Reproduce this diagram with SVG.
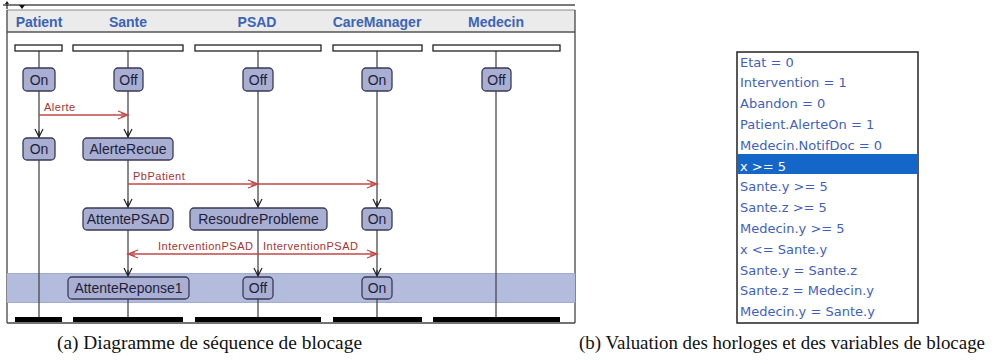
<svg xmlns="http://www.w3.org/2000/svg" width="1002" height="362" viewBox="0 0 1002 362">
<style>
.hdr{font-family:"Liberation Sans",Arial,sans-serif;font-weight:bold;font-size:14px;fill:#3b64b8;text-anchor:middle}
.st rect{fill:#a9aed3;stroke:#3a3a55;stroke-width:1.3}
.st text{font-family:"Liberation Sans",Arial,sans-serif;font-size:14px;fill:#1e1e38;text-anchor:middle}
.bar{fill:#ffffff;stroke:#222;stroke-width:1.3}
.bbar{fill:#000}
.life{stroke:#4a4a4a;stroke-width:1.3;fill:none}
.msg{stroke:#c04848;stroke-width:1.3;fill:none;marker-end:url(#ar)}
.lbl{font-family:"Liberation Sans",Arial,sans-serif;font-size:11px;letter-spacing:0.5px;fill:#a83232}
.dn{stroke:#222;stroke-width:1.2;fill:none}
.var{font-family:"DejaVu Sans",Verdana,sans-serif;font-size:13px;fill:#3f5fc0}
.cap{font-family:"Liberation Serif","Times New Roman",serif;font-size:19px;fill:#111}
</style>
<defs>
<marker id="ar" markerUnits="userSpaceOnUse" markerWidth="12" markerHeight="10" refX="10" refY="4" orient="auto" overflow="visible">
<path d="M0,0 L10,4 L0,8 M3,2 L10,4 L3,6" fill="none" stroke="#c04848" stroke-width="1.2"/>
</marker>
</defs>

<!-- frame of panel (a) -->
<g id="frame">
<rect x="7" y="10" width="568" height="313" fill="#ffffff" stroke="none"/>
<rect x="7" y="10" width="568" height="22" fill="#ebebeb"/>
<line x1="3" y1="5" x2="575" y2="5" stroke="#7a7a7a" stroke-width="2"/>
<line x1="7" y1="10" x2="575" y2="10" stroke="#8a8a8a" stroke-width="1.2"/>
<line x1="7" y1="32" x2="575" y2="32" stroke="#555" stroke-width="1.3"/>
<line x1="7" y1="10" x2="7" y2="323" stroke="#444" stroke-width="1.3"/>
<line x1="575" y1="10" x2="575" y2="323" stroke="#444" stroke-width="1.3"/>
<line x1="7" y1="323" x2="575" y2="323" stroke="#444" stroke-width="1.3"/>
<line x1="7" y1="2" x2="7" y2="9" stroke="#222" stroke-width="1.2"/>
<polygon points="5,4 7,1 9,4" fill="#222"/>
<polygon points="19,5 25,5 22,9" fill="#111"/>
<rect x="7" y="273" width="568" height="30" fill="#b4bcdd"/>
<line x1="7" y1="273.5" x2="575" y2="273.5" stroke="#a2aad0" stroke-width="1"/>
<line x1="7" y1="302.5" x2="575" y2="302.5" stroke="#a2aad0" stroke-width="1"/>
</g>

<g id="headers">
<text class="hdr" x="39" y="27">Patient</text>
<text class="hdr" x="128" y="27">Sante</text>
<text class="hdr" x="257" y="27">PSAD</text>
<text class="hdr" x="377" y="27">CareManager</text>
<text class="hdr" x="496" y="27">Medecin</text>
</g>

<g id="lifelines">
<line class="life" x1="39" y1="51" x2="39" y2="317"/>
<line class="life" x1="128" y1="51" x2="128" y2="317"/>
<line class="life" x1="258" y1="51" x2="258" y2="317"/>
<line class="life" x1="377" y1="51" x2="377" y2="317"/>
<line class="life" x1="496" y1="51" x2="496" y2="317"/>
<rect class="bar" x="15" y="45" width="47" height="6"/>
<rect class="bar" x="73" y="45" width="110" height="6"/>
<rect class="bar" x="195" y="45" width="126" height="6"/>
<rect class="bar" x="333" y="45" width="89" height="6"/>
<rect class="bar" x="433" y="45" width="127" height="6"/>
<rect class="bbar" x="15" y="317" width="47" height="5"/>
<rect class="bbar" x="73" y="317" width="110" height="5"/>
<rect class="bbar" x="195" y="317" width="126" height="5"/>
<rect class="bbar" x="333" y="317" width="89" height="5"/>
<rect class="bbar" x="433" y="317" width="127" height="5"/>
</g>

<g id="connectors">
<line class="msg" x1="39" y1="115" x2="128" y2="115"/>
<line class="msg" x1="128" y1="184" x2="258" y2="184"/>
<line class="msg" x1="258" y1="184" x2="377" y2="184"/>
<line class="msg" x1="258" y1="254" x2="128" y2="254"/>
<line class="msg" x1="258" y1="254" x2="377" y2="254"/>
<text class="lbl" x="44" y="111">Alerte</text>
<text class="lbl" x="133" y="180">PbPatient</text>
<text class="lbl" x="158" y="250">InterventionPSAD</text>
<text class="lbl" x="263" y="250">InterventionPSAD</text>
<path class="dn" d="M35,129 L39,137 L43,129 M39,131 L39,137"/>
<path class="dn" d="M124,129 L128,137 L132,129 M128,131 L128,137"/>
<path class="dn" d="M124,199 L128,207 L132,199 M128,201 L128,207"/>
<path class="dn" d="M254,199 L258,207 L262,199 M258,201 L258,207"/>
<path class="dn" d="M373,199 L377,207 L381,199 M377,201 L377,207"/>
<path class="dn" d="M124,268 L128,276 L132,268 M128,270 L128,276"/>
<path class="dn" d="M254,268 L258,276 L262,268 M258,270 L258,276"/>
<path class="dn" d="M373,268 L377,276 L381,268 M377,270 L377,276"/>
</g>

<g id="patient-on1" class="st"><rect x="23" y="68" width="32" height="23" rx="4"/><text x="39" y="84.5">On</text></g>
<g id="sante-off" class="st"><rect x="114" y="68" width="29" height="23" rx="4"/><text x="128.5" y="84.5">Off</text></g>
<g id="psad-off1" class="st"><rect x="243" y="68" width="30" height="23" rx="4"/><text x="258" y="84.5">Off</text></g>
<g id="cm-on1" class="st"><rect x="362" y="68" width="30" height="23" rx="4"/><text x="377" y="84.5">On</text></g>
<g id="medecin-off" class="st"><rect x="482" y="68" width="29" height="23" rx="4"/><text x="496.5" y="84.5">Off</text></g>

<g id="patient-on2" class="st"><rect x="23" y="138" width="32" height="22" rx="4"/><text x="39" y="154">On</text></g>
<g id="alerte-recue" class="st"><rect x="83" y="138" width="90" height="22" rx="4"/><text x="128" y="154">AlerteRecue</text></g>

<g id="attente-psad" class="st"><rect x="83" y="208" width="90" height="22" rx="4"/><text x="128" y="224">AttentePSAD</text></g>
<g id="resoudre" class="st"><rect x="190" y="208" width="137" height="22" rx="4"/><text x="258.5" y="224">ResoudreProbleme</text></g>
<g id="cm-on2" class="st"><rect x="362" y="208" width="30" height="22" rx="4"/><text x="377" y="224">On</text></g>

<g id="attente-reponse" class="st"><rect x="68" y="277" width="121" height="22" rx="4"/><text x="128.5" y="293">AttenteReponse1</text></g>
<g id="psad-off2" class="st"><rect x="243" y="277" width="30" height="22" rx="4"/><text x="258" y="293">Off</text></g>
<g id="cm-on3" class="st"><rect x="362" y="277" width="30" height="22" rx="4"/><text x="377" y="293">On</text></g>

<g id="valuation">
<rect x="737" y="52" width="181" height="271" fill="#ffffff" stroke="#222" stroke-width="1.5"/>
<rect x="738" y="154" width="180" height="20" fill="#1466c8"/>
<text class="var" x="740" y="66.5">Etat = 0</text>
<text class="var" x="740" y="87.3">Intervention = 1</text>
<text class="var" x="740" y="108.1">Abandon = 0</text>
<text class="var" x="740" y="128.9">Patient.AlerteOn = 1</text>
<text class="var" x="740" y="149.7">Medecin.NotifDoc = 0</text>
<text class="var" x="740" y="170.5" fill="#ffffff" style="fill:#ffffff">x &gt;= 5</text>
<text class="var" x="740" y="191.3">Sante.y &gt;= 5</text>
<text class="var" x="740" y="212.1">Sante.z &gt;= 5</text>
<text class="var" x="740" y="232.9">Medecin.y &gt;= 5</text>
<text class="var" x="740" y="253.7">x &lt;= Sante.y</text>
<text class="var" x="740" y="274.5">Sante.y = Sante.z</text>
<text class="var" x="740" y="295.3">Sante.z = Medecin.y</text>
<text class="var" x="740" y="316.1">Medecin.y = Sante.y</text>
</g>

<g id="captions">
<text class="cap" x="57" y="349" textLength="305" lengthAdjust="spacingAndGlyphs">(a) Diagramme de séquence de blocage</text>
<text class="cap" x="579" y="349" textLength="406" lengthAdjust="spacingAndGlyphs">(b) Valuation des horloges et des variables de blocage</text>
</g>
</svg>
